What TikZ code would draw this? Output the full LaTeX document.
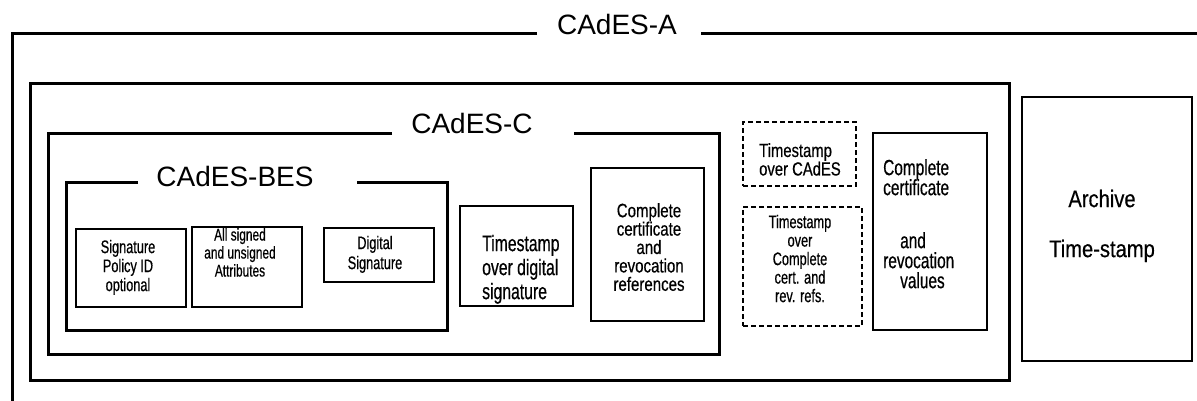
\documentclass[tikz,border=0pt]{standalone}
\usepackage{fontspec}
\setmainfont{Liberation Sans}
\newfontfamily\condf[FakeStretch=0.70,FakeBold=0.5]{Liberation Sans}
\newfontfamily\condw[FakeStretch=0.78,FakeBold=0.5]{Liberation Sans}
\newfontfamily\archf[FakeStretch=0.84,FakeBold=0.4]{Liberation Sans}
\newcommand\tsz[2]{\fontsize{#1}{#2}\selectfont\lineskiplimit=-100pt\relax}
\begin{document}
\begin{tikzpicture}[x=1pt,y=-1pt,
  frame/.style={line width=3pt},
  tbox/.style={draw, line width=1.2pt, inner sep=0pt},
  dbox/.style={draw, line width=1.8pt, dash pattern=on 5pt off 3pt, inner sep=0pt},
  title/.style={font=\tsz{28}{30}, inner sep=0pt, anchor=base},
  txt/.style={inner sep=0pt, align=center, anchor=north},
  ltxt/.style={inner sep=0pt, align=left, anchor=north west}]
\useasboundingbox (0,0) rectangle (1197,400);
\clip (0,0) rectangle (1197,400);
\fill[white] (0,0) rectangle (1197,400);
% titles
\node[title] (tA) at (617,34) {CAdES-A};
\node[title] (tC) at (472,133) {CAdES-C};
\node[title] (tB) at (235,186) {CAdES-BES};
% frames
\draw[frame] (537,33) -- (12,33) -- (12,410);
\draw[frame] (701,33) -- (1210,33);
\draw[frame] (30,83) rectangle (1009,380);
\draw[frame] (392,133) -- (48,133) -- (48,354) -- (719,354) -- (719,133) -- (574,133);
\draw[frame] (138,182) -- (66,182) -- (66,330) -- (447,330) -- (447,182) -- (357,182);
% boxes
\node[tbox, minimum width=110pt, minimum height=78pt] (b1) at (131,268) {};
\node[tbox, minimum width=110pt, minimum height=80pt] (b2) at (247,267) {};
\node[tbox, minimum width=110pt, minimum height=54pt] (b3) at (379,255) {};
\node[tbox, minimum width=113pt, minimum height=100pt] (b4) at (516.5,256) {};
\node[tbox, minimum width=113pt, minimum height=153pt] (b5) at (647.5,244.5) {};
\node[dbox, minimum width=113pt, minimum height=64pt] (b6) at (799.5,154) {};
\node[dbox, minimum width=119pt, minimum height=119pt] (b7) at (802.5,266.5) {};
\node[tbox, minimum width=114pt, minimum height=197pt] (b8) at (930,231.5) {};
\node[tbox, minimum width=170pt, minimum height=264pt] (b9) at (1107,229) {};
% texts
\node[txt, font=\condf\tsz{18.2}{19}] (t1) at (128,239.7) {Signature\\Policy ID\\optional};
\node[txt, font=\condf\tsz{17}{18}] (t2) at (240,228) {All signed\\and unsigned\\Attributes};
\node[txt, font=\condf\tsz{18.2}{20}] (t3) at (375,235.7) {Digital\\Signature};
\node[ltxt, font=\condf\tsz{22.5}{24}] (t4) at (482,234.6) {Timestamp\\over digital\\signature};
\node[txt, font=\condw\tsz{19.3}{18.4}] (t5) at (649,203) {Complete\\certificate\\and\\revocation\\references};
\node[ltxt, font=\condw\tsz{19}{18.5}] (t6) at (759,143) {Timestamp\\over CAdES};
\node[txt, font=\condf\tsz{18.2}{18.5}] (t7) at (800,214.7) {Timestamp\\over\\Complete\\cert. and\\rev. refs.};
\node[ltxt, font=\condf\tsz{22}{20}] (t8) at (883,159) {Complete\\certificate\\[33pt]\hspace*{17pt}and\\revocation\\\hspace*{17pt}values};
\node[txt, font=\archf\tsz{24}{50}] (t9) at (1102,189.5) {Archive\\Time-stamp};
\end{tikzpicture}
\end{document}
